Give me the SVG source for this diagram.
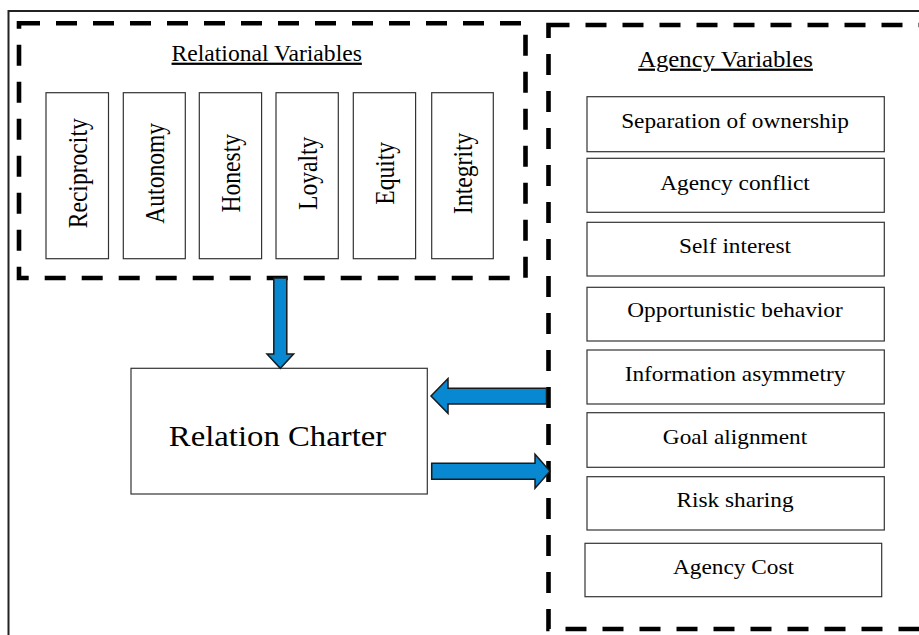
<svg xmlns="http://www.w3.org/2000/svg" width="919" height="635" viewBox="0 0 919 635">
<style>
.frame{fill:none;stroke:#222;stroke-width:2}
.dash{fill:none;stroke:#000;stroke-width:4.6;stroke-dasharray:21 16}
.box{fill:#fff;stroke:#333;stroke-width:1.2}
.t{font-family:"Liberation Serif","Times New Roman",serif;fill:#000;text-anchor:middle}
.item{font-size:21px}
.vt{font-size:23.6px}
.title{font-size:22.5px;text-decoration:underline}
.arrow{fill:#0788D1;stroke:#1a1a1a;stroke-width:1.5;stroke-linejoin:miter}
</style>
<rect x="0" y="0" width="919" height="635" fill="#fff"/>
<path class="frame" d="M8.5,640 V11 H930"/>

<g id="relational-variables">
<rect class="dash" x="19" y="23.3" width="506.5" height="254.7"/>
<text class="t title" transform="translate(266.7,60.7) scale(1.05,1)">Relational Variables</text>
</g>
<g id="reciprocity"><rect class="box" x="46" y="92.7" width="62.5" height="166"/><text class="t vt" transform="translate(87,173.3) scale(1.15,1) rotate(-90)">Reciprocity</text></g>
<g id="autonomy"><rect class="box" x="123.3" y="92.7" width="62" height="166"/><text class="t vt" transform="translate(164,173.3) scale(1.15,1) rotate(-90)">Autonomy</text></g>
<g id="honesty"><rect class="box" x="199.3" y="92.7" width="62.3" height="166"/><text class="t vt" transform="translate(240.3,173.3) scale(1.15,1) rotate(-90)">Honesty</text></g>
<g id="loyalty"><rect class="box" x="276" y="92.7" width="62.3" height="166"/><text class="t vt" transform="translate(316.5,173.3) scale(1.15,1) rotate(-90)">Loyalty</text></g>
<g id="equity"><rect class="box" x="353.3" y="92.7" width="62.3" height="166"/><text class="t vt" transform="translate(394,173.3) scale(1.15,1) rotate(-90)">Equity</text></g>
<g id="integrity"><rect class="box" x="431.7" y="92.7" width="61.6" height="166"/><text class="t vt" transform="translate(471.8,173.3) scale(1.15,1) rotate(-90)">Integrity</text></g>

<g id="agency-variables">
<rect class="dash" x="548.5" y="25" width="420" height="604"/>
<text class="t title" transform="translate(725.5,66.7) scale(1.1,1)">Agency Variables</text>
</g>
<g id="separation"><rect class="box" x="587" y="96.7" width="297.3" height="55"/><text class="t item" transform="translate(735,128.3) scale(1.11,1)">Separation of ownership</text></g>
<g id="agency-conflict"><rect class="box" x="587" y="158.3" width="297.3" height="54"/><text class="t item" transform="translate(735,189.5) scale(1.11,1)">Agency conflict</text></g>
<g id="self-interest"><rect class="box" x="587" y="222.3" width="297.3" height="53.7"/><text class="t item" transform="translate(735,252.5) scale(1.11,1)">Self interest</text></g>
<g id="opportunistic"><rect class="box" x="587" y="287.3" width="297.3" height="53.7"/><text class="t item" transform="translate(735,317) scale(1.11,1)">Opportunistic behavior</text></g>
<g id="information"><rect class="box" x="587" y="350" width="297.3" height="54"/><text class="t item" transform="translate(735,381) scale(1.11,1)">Information asymmetry</text></g>
<g id="goal"><rect class="box" x="587" y="412.7" width="297.3" height="54.6"/><text class="t item" transform="translate(735,443.5) scale(1.11,1)">Goal alignment</text></g>
<g id="risk"><rect class="box" x="587" y="476.7" width="297.3" height="53.3"/><text class="t item" transform="translate(735,506.7) scale(1.11,1)">Risk sharing</text></g>
<g id="agency-cost"><rect class="box" x="585" y="543.3" width="296.7" height="53.4"/><text class="t item" transform="translate(733.5,574) scale(1.11,1)">Agency Cost</text></g>

<g id="relation-charter"><rect class="box" x="131" y="368.3" width="296.3" height="125.7"/><text class="t" style="font-size:29px" transform="translate(277.5,445.7) scale(1.13,1)">Relation Charter</text></g>

<g id="connectors">
<path class="arrow" d="M273.8,278 H286.8 V354 H293.6 L280.3,368.3 L267,354 H273.8 Z"/>
<path class="arrow" d="M546.5,388.3 V404 H448 V413.3 L431,396 L448,378.5 V388.3 Z"/>
<path class="arrow" d="M431.7,463.3 H535 V454.3 L550,471.3 L535,488.3 V479.3 H431.7 Z"/>
</g>
</svg>
